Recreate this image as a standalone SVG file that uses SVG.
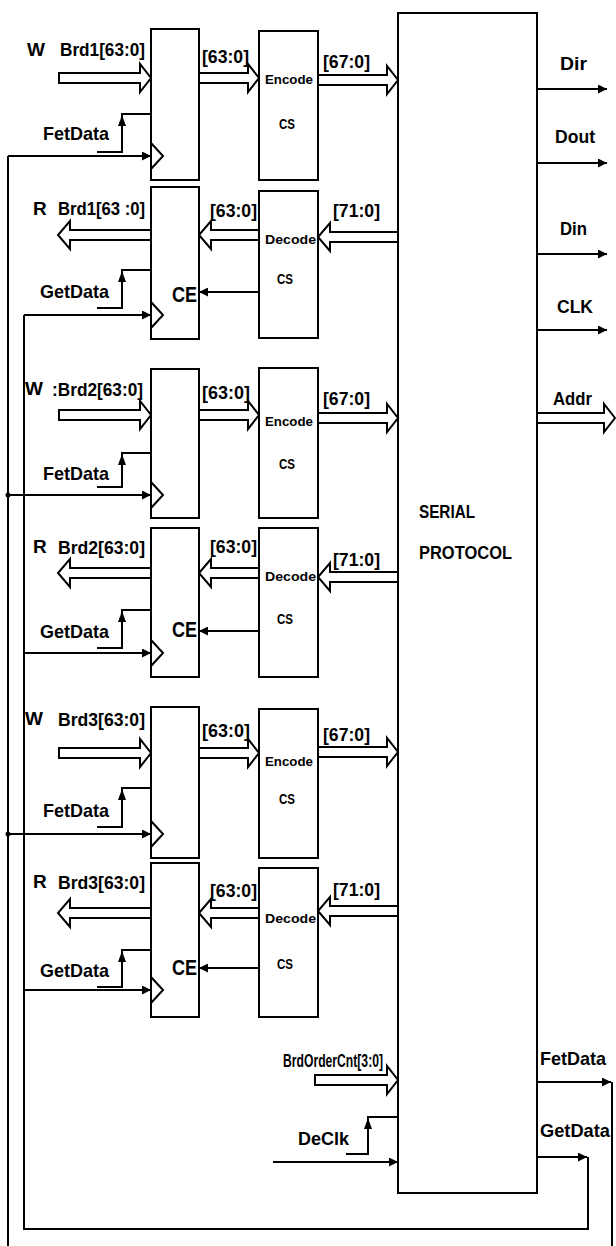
<svg xmlns="http://www.w3.org/2000/svg" width="616" height="1246" viewBox="0 0 616 1246">
<defs>
<style>
.box{fill:none;stroke:#000;stroke-width:2}
.w{fill:none;stroke:#000;stroke-width:2}
.bus{fill:#fff;stroke:#000;stroke-width:2;stroke-linejoin:miter}
.ah{fill:#000}
text{font-family:"Liberation Sans",Arial,sans-serif;font-weight:bold;fill:#000}
.lb{font-size:19px}
.sm{font-size:13px}
.cs{font-size:15px}
.ce{font-size:22px}
.sp{font-size:18px}
</style>
<marker id="arr" viewBox="0 0 10 10" refX="10" refY="5" markerWidth="10" markerHeight="9" markerUnits="userSpaceOnUse" orient="auto">
<path d="M0,0 L10,5 L0,10 Z" fill="#000"/>
</marker>
</defs>
<rect width="616" height="1246" fill="#fff"/>

<g id="connectors">
<path class="w" d="M8,156 V1246"/>
<path class="w" d="M24,315 V1229 H588 V1157"/>
<path class="w" d="M612,1082 V1246"/>
<!-- W1 -->
<path class="bus" d="M59,73 H140 V64 L151,78 L140,92 V83 H59 Z"/>
<path class="bus" d="M199,73 H248 V64 L259,78 L248,92 V83 H199 Z"/>
<path class="bus" d="M318,75 H387 V66 L398,80 L387,94 V85 H318 Z"/>
<path class="w" d="M97,152 H122 V114 H151"/>
<path class="ah" d="M118,126 L122,115 L126,126 Z"/>
<path class="w" d="M8,156 H151" marker-end="url(#arr)"/>
<!-- R1 -->
<path class="bus" d="M151,230 H70 V221 L58,235 L70,249 V240 H151 Z"/>
<path class="bus" d="M259,230 H211 V221 L199,235 L211,249 V240 H259 Z"/>
<path class="bus" d="M398,232 H330 V223 L318,237 L330,251 V242 H398 Z"/>
<path class="w" d="M259,292 H199" marker-end="url(#arr)"/>
<path class="w" d="M97,308 H122 V270 H151"/>
<path class="ah" d="M118,282 L122,271 L126,282 Z"/>
<path class="w" d="M24,315 H151" marker-end="url(#arr)"/>
<!-- W2 -->
<path class="bus" d="M59,410 H140 V401 L151,415 L140,429 V420 H59 Z"/>
<path class="bus" d="M199,410 H248 V401 L259,415 L248,429 V420 H199 Z"/>
<path class="bus" d="M318,413 H387 V404 L398,418 L387,432 V423 H318 Z"/>
<path class="w" d="M97,487 H122 V453 H151"/>
<path class="ah" d="M118,465 L122,454 L126,465 Z"/>
<path class="w" d="M8,495 H151" marker-end="url(#arr)"/>
<circle cx="8" cy="495" r="2.5" fill="#000"/>
<!-- R2 -->
<path class="bus" d="M151,568 H70 V559 L58,573 L70,587 V578 H151 Z"/>
<path class="bus" d="M259,568 H211 V559 L199,573 L211,587 V578 H259 Z"/>
<path class="bus" d="M398,572 H330 V563 L318,577 L330,591 V582 H398 Z"/>
<path class="w" d="M259,631 H199" marker-end="url(#arr)"/>
<path class="w" d="M97,648 H122 V610 H151"/>
<path class="ah" d="M118,622 L122,611 L126,622 Z"/>
<path class="w" d="M24,653 H151" marker-end="url(#arr)"/>
<!-- W3 -->
<path class="bus" d="M59,748 H140 V739 L151,753 L140,767 V758 H59 Z"/>
<path class="bus" d="M199,748 H248 V739 L259,753 L248,767 V758 H199 Z"/>
<path class="bus" d="M318,747 H387 V738 L398,752 L387,766 V757 H318 Z"/>
<path class="w" d="M97,827 H122 V788 H151"/>
<path class="ah" d="M118,800 L122,789 L126,800 Z"/>
<path class="w" d="M8,834 H151" marker-end="url(#arr)"/>
<circle cx="8" cy="834" r="2.5" fill="#000"/>
<!-- R3 -->
<path class="bus" d="M151,908 H70 V899 L58,913 L70,927 V918 H151 Z"/>
<path class="bus" d="M259,908 H211 V899 L199,913 L211,927 V918 H259 Z"/>
<path class="bus" d="M398,906 H330 V897 L318,911 L330,925 V916 H398 Z"/>
<path class="w" d="M259,968 H199" marker-end="url(#arr)"/>
<path class="w" d="M97,987 H122 V950 H151"/>
<path class="ah" d="M118,962 L122,951 L126,962 Z"/>
<path class="w" d="M24,990 H151" marker-end="url(#arr)"/>
<!-- bottom inputs -->
<path class="bus" d="M315,1075 H387 V1066 L398,1080 L387,1094 V1085 H315 Z"/>
<path class="w" d="M346,1154 H368 V1117 H398"/>
<path class="ah" d="M364,1129 L368,1118 L372,1129 Z"/>
<path class="w" d="M273,1162 H398" marker-end="url(#arr)"/>
<!-- outputs -->
<path class="w" d="M537,89 H607" marker-end="url(#arr)"/>
<path class="w" d="M537,163 H607" marker-end="url(#arr)"/>
<path class="w" d="M537,254 H607" marker-end="url(#arr)"/>
<path class="w" d="M537,330 H607" marker-end="url(#arr)"/>
<path class="bus" d="M537,413 H604 V404 L615,418 L604,432 V423 H537 Z"/>
<path class="w" d="M537,1082 H611" marker-end="url(#arr)"/>
<path class="w" d="M537,1157 H587" marker-end="url(#arr)"/>
</g>

<g id="serial">
<rect class="box" x="398" y="13" width="139" height="1180"/>
<text class="sp" x="419" y="518" textLength="56" lengthAdjust="spacingAndGlyphs">SERIAL</text>
<text class="sp" x="419" y="559" textLength="93" lengthAdjust="spacingAndGlyphs">PROTOCOL</text>
<text class="lb" x="560" y="70" textLength="27" lengthAdjust="spacingAndGlyphs">Dir</text>
<text class="lb" x="555" y="143" textLength="40" lengthAdjust="spacingAndGlyphs">Dout</text>
<text class="lb" x="560" y="235" textLength="27" lengthAdjust="spacingAndGlyphs">Din</text>
<text class="lb" x="557" y="313" textLength="36" lengthAdjust="spacingAndGlyphs">CLK</text>
<text class="lb" x="553" y="405" textLength="39" lengthAdjust="spacingAndGlyphs">Addr</text>
<text class="lb" x="540" y="1065" textLength="66" lengthAdjust="spacingAndGlyphs">FetData</text>
<text class="lb" x="540" y="1137" textLength="70" lengthAdjust="spacingAndGlyphs">GetData</text>
<text class="lb" x="283" y="1067" textLength="100" lengthAdjust="spacingAndGlyphs">BrdOrderCnt[3:0]</text>
<text class="lb" x="298" y="1145" textLength="51" lengthAdjust="spacingAndGlyphs">DeClk</text>
</g>

<g id="w1">
<rect class="box" x="151" y="29" width="48" height="151"/>
<polyline class="w" points="151,143 163,156 151,169"/>
<rect class="box" x="259" y="31" width="59" height="149"/>
<text class="lb" x="27" y="56">W</text>
<text class="lb" x="60" y="56" textLength="85" lengthAdjust="spacingAndGlyphs">Brd1[63:0]</text>
<text class="lb" x="202" y="63" textLength="47" lengthAdjust="spacingAndGlyphs">[63:0]</text>
<text class="sm" x="265" y="84" textLength="48" lengthAdjust="spacingAndGlyphs">Encode</text>
<text class="cs" x="279" y="129" textLength="16" lengthAdjust="spacingAndGlyphs">CS</text>
<text class="lb" x="43" y="140" textLength="66" lengthAdjust="spacingAndGlyphs">FetData</text>
<text class="lb" x="323" y="68" textLength="47" lengthAdjust="spacingAndGlyphs">[67:0]</text>
</g>

<g id="r1">
<rect class="box" x="151" y="187" width="48" height="152"/>
<polyline class="w" points="151,302 163,315 151,328"/>
<rect class="box" x="259" y="191" width="59" height="147"/>
<text class="lb" x="33" y="215">R</text>
<text class="lb" x="58" y="215" textLength="87" lengthAdjust="spacingAndGlyphs">Brd1[63 :0]</text>
<text class="lb" x="210" y="217" textLength="47" lengthAdjust="spacingAndGlyphs">[63:0]</text>
<text class="sm" x="265" y="244" textLength="51" lengthAdjust="spacingAndGlyphs">Decode</text>
<text class="cs" x="277" y="284" textLength="16" lengthAdjust="spacingAndGlyphs">CS</text>
<text class="lb" x="40" y="298" textLength="69" lengthAdjust="spacingAndGlyphs">GetData</text>
<text class="ce" x="172" y="302" textLength="25" lengthAdjust="spacingAndGlyphs">CE</text>
<text class="lb" x="333" y="217" textLength="47" lengthAdjust="spacingAndGlyphs">[71:0]</text>
</g>

<g id="w2">
<rect class="box" x="151" y="369" width="48" height="149"/>
<polyline class="w" points="151,482 163,495 151,508"/>
<rect class="box" x="259" y="368" width="59" height="150"/>
<text class="lb" x="25" y="395">W</text>
<text class="lb" x="52" y="396" textLength="91" lengthAdjust="spacingAndGlyphs">:Brd2[63:0]</text>
<text class="lb" x="202" y="399" textLength="48" lengthAdjust="spacingAndGlyphs">[63:0]</text>
<text class="sm" x="265" y="426" textLength="48" lengthAdjust="spacingAndGlyphs">Encode</text>
<text class="cs" x="279" y="469" textLength="16" lengthAdjust="spacingAndGlyphs">CS</text>
<text class="lb" x="43" y="480" textLength="66" lengthAdjust="spacingAndGlyphs">FetData</text>
<text class="lb" x="323" y="405" textLength="47" lengthAdjust="spacingAndGlyphs">[67:0]</text>
</g>

<g id="r2">
<rect class="box" x="151" y="528" width="48" height="149"/>
<polyline class="w" points="151,640 163,653 151,666"/>
<rect class="box" x="259" y="528" width="59" height="149"/>
<text class="lb" x="33" y="553">R</text>
<text class="lb" x="58" y="554" textLength="87" lengthAdjust="spacingAndGlyphs">Brd2[63:0]</text>
<text class="lb" x="210" y="553" textLength="47" lengthAdjust="spacingAndGlyphs">[63:0]</text>
<text class="sm" x="265" y="581" textLength="51" lengthAdjust="spacingAndGlyphs">Decode</text>
<text class="cs" x="277" y="624" textLength="16" lengthAdjust="spacingAndGlyphs">CS</text>
<text class="lb" x="40" y="638" textLength="69" lengthAdjust="spacingAndGlyphs">GetData</text>
<text class="ce" x="172" y="637" textLength="25" lengthAdjust="spacingAndGlyphs">CE</text>
<text class="lb" x="333" y="566" textLength="47" lengthAdjust="spacingAndGlyphs">[71:0]</text>
</g>

<g id="w3">
<rect class="box" x="151" y="707" width="48" height="151"/>
<polyline class="w" points="151,821 163,834 151,847"/>
<rect class="box" x="259" y="709" width="59" height="149"/>
<text class="lb" x="25" y="725">W</text>
<text class="lb" x="58" y="726" textLength="87" lengthAdjust="spacingAndGlyphs">Brd3[63:0]</text>
<text class="lb" x="202" y="737" textLength="48" lengthAdjust="spacingAndGlyphs">[63:0]</text>
<text class="sm" x="265" y="766" textLength="48" lengthAdjust="spacingAndGlyphs">Encode</text>
<text class="cs" x="279" y="804" textLength="16" lengthAdjust="spacingAndGlyphs">CS</text>
<text class="lb" x="43" y="817" textLength="66" lengthAdjust="spacingAndGlyphs">FetData</text>
<text class="lb" x="323" y="741" textLength="47" lengthAdjust="spacingAndGlyphs">[67:0]</text>
</g>

<g id="r3">
<rect class="box" x="151" y="863" width="48" height="154"/>
<polyline class="w" points="151,977 163,990 151,1003"/>
<rect class="box" x="259" y="868" width="59" height="149"/>
<text class="lb" x="33" y="888">R</text>
<text class="lb" x="58" y="889" textLength="87" lengthAdjust="spacingAndGlyphs">Brd3[63:0]</text>
<text class="lb" x="210" y="897" textLength="47" lengthAdjust="spacingAndGlyphs">[63:0]</text>
<text class="sm" x="265" y="923" textLength="51" lengthAdjust="spacingAndGlyphs">Decode</text>
<text class="cs" x="277" y="969" textLength="16" lengthAdjust="spacingAndGlyphs">CS</text>
<text class="lb" x="40" y="977" textLength="69" lengthAdjust="spacingAndGlyphs">GetData</text>
<text class="ce" x="172" y="975" textLength="25" lengthAdjust="spacingAndGlyphs">CE</text>
<text class="lb" x="333" y="896" textLength="47" lengthAdjust="spacingAndGlyphs">[71:0]</text>
</g>
</svg>
